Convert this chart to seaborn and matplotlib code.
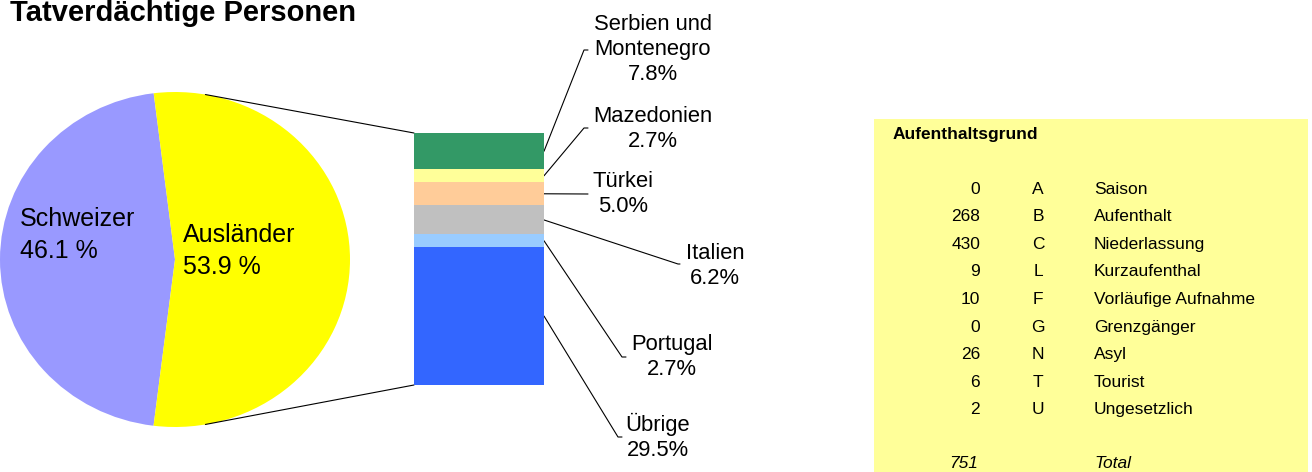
import seaborn as sns
import matplotlib.pyplot as plt
import numpy as np
from matplotlib.patches import Rectangle

# pie: Swiss vs foreign suspects (percent)
pie_labels = ["Schweizer", "Ausländer"]
pie_shares = [46.1, 53.9]
pie_colors = ["#9999FF", "#FFFF00"]

# bar of pie: foreigners by origin, top to bottom
countries = ["Serbien und\nMontenegro", "Mazedonien", "Türkei", "Italien", "Portugal", "Übrige"]
country_shares = [7.8, 2.7, 5.0, 6.2, 2.7, 29.5]
country_colors = ["#339966", "#FFFF99", "#FFCC99", "#C0C0C0", "#99CCFF", "#3366FF"]

# table: Aufenthaltsgrund
counts = [0, 268, 430, 9, 10, 0, 26, 6, 2]
codes = ["A", "B", "C", "L", "F", "G", "N", "T", "U"]
reasons = ["Saison", "Aufenthalt", "Niederlassung", "Kurzaufenthal", "Vorläufige Aufnahme",
           "Grenzgänger", "Asyl", "Tourist", "Ungesetzlich"]

W, H = 1312, 472
sns.set_style("white")
plt.rcParams["font.family"] = ["Liberation Sans", "DejaVu Sans"]
plt.rcParams["text.color"] = "black"


def py(y):
    # pixel row (from top) -> data y (from bottom)
    return H - y


fig = plt.figure(figsize=(W / 100, H / 100), dpi=100)

# pie in its own axes, slightly wider than tall like the original
cx, cy, rx, ry = 175, 259.5, 175, 167.5
axp = fig.add_axes([0, 0, 1, 1])
axp.pie(pie_shares, colors=pie_colors, startangle=97, counterclock=True,
        center=(0, 0), radius=1, wedgeprops=dict(linewidth=0))
axp.set_aspect("auto")
axp.set_xlim(-cx / rx, (W - cx) / rx)
axp.set_ylim(-(H - cy) / ry, cy / ry)
axp.axis("off")

# overlay in pixel units
ax = fig.add_axes([0, 0, 1, 1])
ax.set_facecolor("none")
ax.set_xlim(0, W)
ax.set_ylim(0, H)
ax.axis("off")

ax.text(20, py(235), f"{pie_labels[0]}\n{pie_shares[0]} %", fontsize=18,
        ha="left", va="center", linespacing=1.4)
ax.text(183, py(251), f"{pie_labels[1]}\n{pie_shares[1]} %", fontsize=18,
        ha="left", va="center", linespacing=1.4)

# stacked bar
bx0, bx1, by0, by1 = 414, 544, 133, 385
axb = fig.add_axes([bx0 / W, (H - by1) / H, (bx1 - bx0) / W, (by1 - by0) / H])
total = sum(country_shares)
bottom = 0
for share, col in zip(country_shares[::-1], country_colors[::-1]):
    sns.barplot(x=[0], y=[share], bottom=bottom, color=col, width=1,
                saturation=1, linewidth=0, ax=axb)
    bottom += share
axb.set_xlim(-0.5, 0.5)
axb.set_ylim(0, total)
axb.axis("off")

# connectors pie -> bar
ang = np.deg2rad(80)
px_, dy = cx + rx * np.cos(ang), ry * np.sin(ang)
ax.plot([px_, bx0], [py(cy - dy), py(by0)], color="black", lw=0.8)
ax.plot([px_, bx0], [py(cy + dy), py(by1)], color="black", lw=0.8)

# leader labels
scale = (by1 - by0) / total
tops = total - np.cumsum([0] + country_shares[:-1])
label_pos = [
    ((584, 50), (588, 50), (653, 50)),
    ((584, 128), (588, 128), (653, 129)),
    ((588, 194), (588, 194), (623, 194)),
    ((678, 264), (680, 264), (715, 266)),
    ((622, 357), (626, 357), (672, 357)),
    ((618, 437), (622, 437), (658, 437)),
]
for name, share, top, (p1, p2, tp) in zip(countries, country_shares, tops, label_pos):
    ystart = by1 - (top - share / 2) * scale
    ax.plot([bx1, p1[0], p2[0]], [py(ystart), py(p1[1]), py(p2[1])], color="black", lw=0.8)
    ax.text(tp[0], py(tp[1]), f"{name}\n{share:.1f}%", fontsize=15.8,
            ha="center", va="center", linespacing=1.25)

# title
ax.text(10, py(21), "Tatverdächtige Personen", fontsize=21, fontweight="bold",
        ha="left", va="baseline")

# table
ax.add_patch(Rectangle((874, 0), 1308 - 874, py(119), facecolor="#FFFF99", edgecolor="none"))
ax.text(893, py(134), "Aufenthaltsgrund", fontsize=12.5, fontweight="bold",
        ha="left", va="center")
row_y = 189
for n, c, rsn in zip(counts, codes, reasons):
    ax.text(980, py(row_y), str(n), fontsize=12.5, ha="right", va="center")
    ax.text(1038, py(row_y), c, fontsize=12.5, ha="center", va="center")
    ax.text(1094, py(row_y), rsn, fontsize=12.5, ha="left", va="center")
    row_y += 27.6
ax.text(978, py(463), str(sum(counts)), fontsize=12.5, style="italic", ha="right", va="center")
ax.text(1094, py(463), "Total", fontsize=12.5, style="italic", ha="left", va="center")

fig.savefig("out.png", dpi=100)
